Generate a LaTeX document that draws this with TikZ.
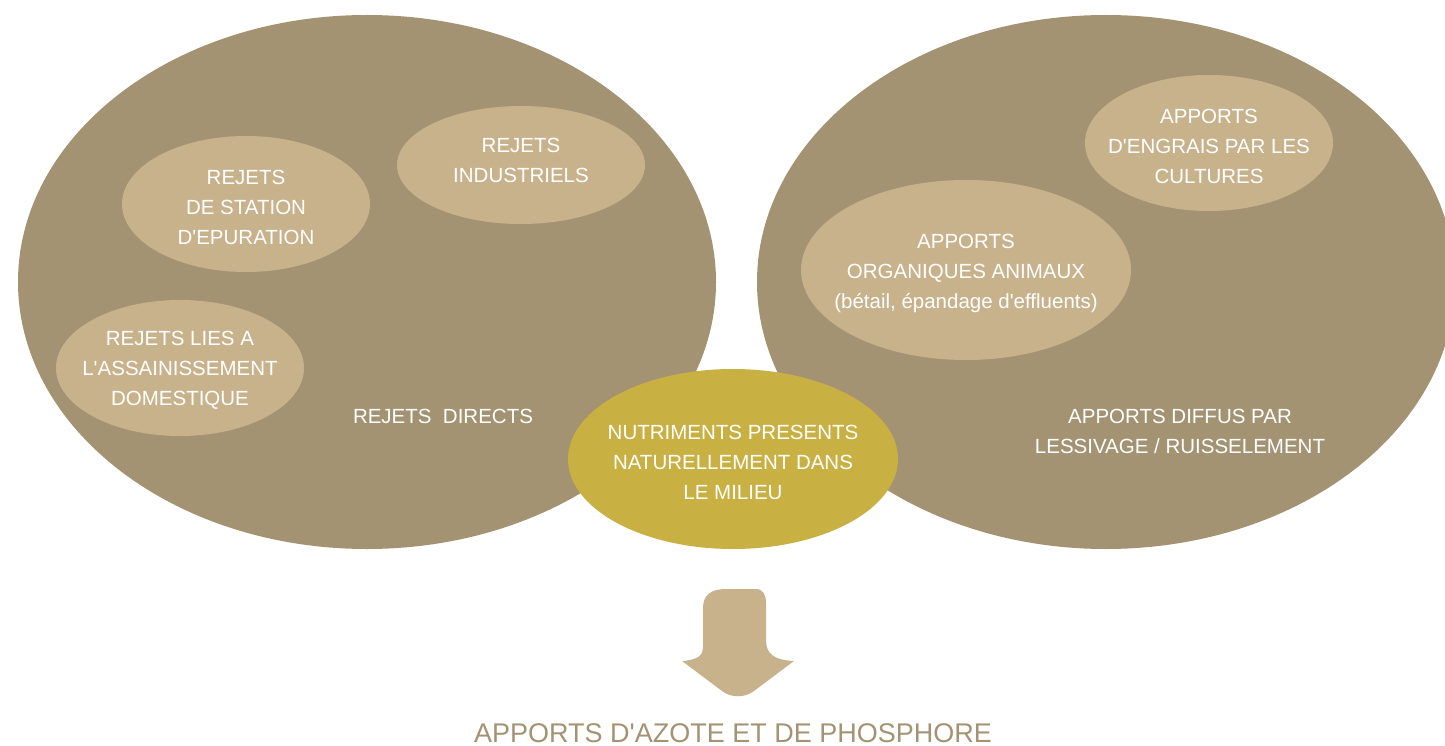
\documentclass[tikz,border=0pt]{standalone}
\usepackage{fontspec}
\setmainfont{Liberation Sans}
\usetikzlibrary{shapes.geometric}

\definecolor{taupe}{HTML}{A39372}
\definecolor{sable}{HTML}{C8B28C}
\definecolor{moutarde}{HTML}{C9B043}

\newcommand{\apos}{\textquotesingle}

\tikzstyle{zone}=[ellipse, fill=taupe, inner sep=0pt]
\tikzstyle{source}=[ellipse, fill=sable, inner sep=0pt, minimum width=248pt, minimum height=136pt]
\tikzstyle{txt}=[text=white, align=center, inner sep=0pt, font=\fontsize{20.5}{30}\selectfont]

\begin{document}
\begin{tikzpicture}[x=1pt, y=-1pt]
\useasboundingbox (0,0) rectangle (1445,746);
\clip (0,0) rectangle (1445,746);

% les deux grandes familles d'apports
\node[zone, minimum width=698pt, minimum height=534pt](directs) at (367,282) {};
\node[zone, minimum width=698pt, minimum height=534pt](diffus) at (1106,282) {};

% sources ponctuelles
\node[source](station) at (246,204) {};
\node[source, minimum height=118pt](industrie) at (521,165) {};
\node[source](assainissement) at (180,368) {};

% sources diffuses
\node[source](engrais) at (1209,143) {};
\node[source, minimum width=330pt, minimum height=180pt](organiques) at (966,270) {};

% fond naturel
\node[ellipse, fill=moutarde, inner sep=0pt, minimum width=330pt, minimum height=180pt](milieu) at (733,459) {};

\node[txt](t-station) at (246,207) {REJETS\\DE STATION\\D\apos EPURATION};
\node[txt](t-industrie) at (521,160) {REJETS\\INDUSTRIELS};
\node[txt](t-assainissement) at (180,370) {REJETS LIES A\\L\apos ASSAINISSEMENT\\DOMESTIQUE};
\node[txt](t-directs) at (443,416) {REJETS\ \ DIRECTS};
\node[txt](t-engrais) at (1209,146) {APPORTS\\D\apos ENGRAIS PAR LES\\CULTURES};
\node[txt](t-organiques) at (966,273) {APPORTS\\ORGANIQUES ANIMAUX\\(bétail, épandage d\apos effluents)};
\node[txt](t-diffus) at (1180,431) {APPORTS DIFFUS PAR\\LESSIVAGE / RUISSELEMENT};
\node[txt](t-milieu) at (733,462) {NUTRIMENTS PRESENTS\\NATURELLEMENT DANS\\LE MILIEU};

% fleche vers le bilan
\fill[sable] (703,648) -- (703,608) .. controls (703,595) and (711,589) .. (726,589)
  -- (756,589) .. controls (763,589) and (766,595) .. (766,603)
  -- (766,640) .. controls (766,654) and (774,660) .. (794,661)
  -- (754,691) .. controls (745,698) and (731,698) .. (722,691)
  -- (682,661) .. controls (698,660) and (703,655) .. (703,648) -- cycle;

\node[txt, text=taupe, font=\fontsize{27}{30}\selectfont](bilan) at (733,733) {APPORTS D\apos AZOTE ET DE PHOSPHORE};
\end{tikzpicture}
\end{document}
